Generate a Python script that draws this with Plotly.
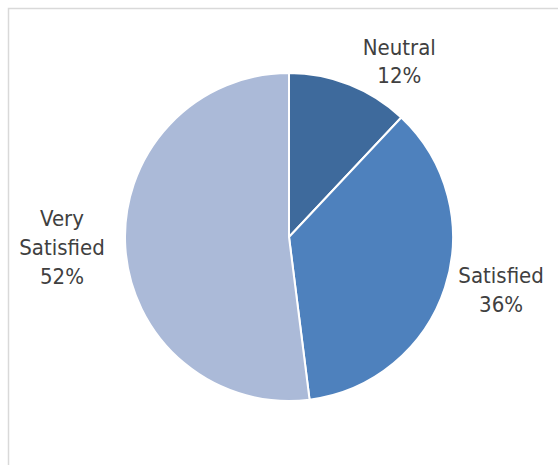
import plotly.graph_objects as go

labels = ["Neutral", "Satisfied", "Very Satisfied"]
text_labels = ["Neutral", "Satisfied", "Very<br>Satisfied"]
values = [12, 36, 52]
colors = ["#3E6A9C", "#4E81BD", "#ABBAD8"]

W, H = 558, 465
cx, cy, r = 289, 237, 164

fig = go.Figure(go.Pie(
    labels=labels,
    values=values,
    text=text_labels,
    sort=False,
    direction="clockwise",
    rotation=0,
    marker=dict(colors=colors, line=dict(color="white", width=2)),
    textinfo="text+percent",
    texttemplate="%{text}<br>%{percent:.0%}",
    textposition="outside",
    outsidetextfont=dict(family="DejaVu Sans Condensed, DejaVu Sans", size=22, color="#404040"),
    automargin=False,
    showlegend=False,
    hoverinfo="skip",
    domain=dict(x=[(cx - r) / W, (cx + r) / W], y=[(H - cy - r) / H, (H - cy + r) / H]),
))

fig.update_layout(
    width=W, height=H,
    margin=dict(l=0, r=0, t=0, b=0),
    paper_bgcolor="white",
    plot_bgcolor="white",
    shapes=[dict(type="rect", xref="paper", yref="paper",
                 x0=8.5 / W, x1=1.2, y0=-0.2, y1=1 - 8.5 / H,
                 line=dict(color="#D9D9D9", width=1.5), layer="below")],
)

fig.write_html("out.html")
